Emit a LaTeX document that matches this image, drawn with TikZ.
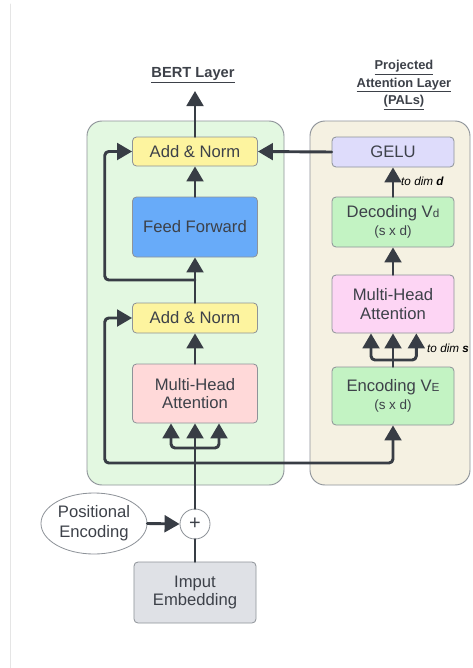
\documentclass[tikz,border=0pt]{standalone}
\usepackage{fontspec}
\setmainfont{Liberation Sans}
\usetikzlibrary{positioning, arrows.meta, calc, shapes.geometric}
\definecolor{figink}{HTML}{3D4149}
\definecolor{figwire}{HTML}{383D45}
\definecolor{boxline}{HTML}{8E9399}
\definecolor{bertfill}{HTML}{E3F8E1}
\definecolor{palfill}{HTML}{F5F1E2}
\definecolor{normfill}{HTML}{FDF49F}
\definecolor{fffill}{HTML}{68ABF9}
\definecolor{attfill}{HTML}{FFD9D9}
\definecolor{attpfill}{HTML}{FDD5F4}
\definecolor{codefill}{HTML}{C3F3C3}
\definecolor{gelufill}{HTML}{DEDCFB}
\definecolor{embfill}{HTML}{DFE1E6}

\newcommand{\smallsub}[1]{{\fontsize{10}{10}\selectfont #1}}

\begin{document}
\begin{tikzpicture}[
  x=0.03cm, y=-0.03cm,
  line cap=round, line join=round,
  >={Triangle[length=0.45cm, width=0.5cm]},
  panel/.style = {draw=boxline, line width=0.8pt, rounded corners=0.45cm},
  box/.style   = {draw=boxline, line width=0.7pt, rounded corners=0.12cm,
                  minimum width=3.75cm, inner sep=2pt, anchor=center,
                  align=center, text=figink,
                  font=\fontsize{14.2}{15.5}\selectfont},
  wire/.style  = {draw=figwire, line width=2.5pt, rounded corners=0.12cm},
  note/.style  = {font=\fontsize{10}{12}\selectfont\itshape, text=black,
                  inner sep=0pt, anchor=west},
  ttl/.style   = {font=\fontsize{12.5}{15}\selectfont\bfseries, text=figink,
                  align=center, inner sep=0pt}
]

% page and left rule
\fill[white] (0,0) rectangle (472,668);
\useasboundingbox (0,0) rectangle (472,668);
\draw[black!10, line width=0.8pt] (10.5,4) -- (10.5,668);

% panels
\draw[panel, fill=bertfill] (87,121) rectangle (284,485);
\draw[panel, fill=palfill] (310,121) rectangle (470,485);

% titles
\node[ttl] (berttitle) at (193,75) {\underline{BERT Layer}};
\node[ttl, font=\fontsize{11}{15}\selectfont\bfseries] (paltitle) at (404,85)
  {\underline{Projected}\\\underline{Attention Layer}\\\underline{(PALs)}};

% BERT layer
\node[box, fill=normfill, minimum height=0.87cm] (addtop) at (195,151.5) {Add \& Norm};
\node[box, fill=fffill, minimum height=1.8cm] (ff) at (195,227) {Feed Forward};
\node[box, fill=normfill, minimum height=0.9cm] (addlow) at (195,318) {Add \& Norm};
\node[box, fill=attfill, minimum height=1.77cm] (mha) at (195,393.5) {Multi-Head\\Attention};

% PAL branch
\node[box, fill=gelufill, minimum width=3.66cm, minimum height=0.9cm] (gelu) at (393,152) {GELU};
\node[box, fill=codefill, minimum width=3.66cm, minimum height=1.5cm] (dec) at (393,222)
  {Decoding V\smallsub{d}\\{\fontsize{11.5}{14}\selectfont (s x d)}};
\node[box, fill=attpfill, minimum width=3.66cm, minimum height=1.74cm] (mhap) at (393,304) {Multi-Head\\Attention};
\node[box, fill=codefill, minimum width=3.66cm, minimum height=1.74cm] (enc) at (393,396)
  {Encoding V\smallsub{E}\\{\fontsize{11.5}{14}\selectfont (s x d)}};

% input side
\node[box, fill=embfill, minimum width=3.66cm, minimum height=1.83cm] (emb) at (195,592.5) {Imput\\Embedding};
\node[draw=boxline, line width=0.7pt, fill=white, circle, minimum size=0.9cm, inner sep=0pt,
      text=figink, font=\fontsize{17}{17}\selectfont] (plus) at (195,524) {+};
\node[draw=boxline, line width=0.7pt, fill=white, ellipse, minimum width=3.18cm, minimum height=1.83cm,
      inner sep=0pt, align=center, text=figink, font=\fontsize{14.2}{17}\selectfont] (pos) at (94,523.5)
  {Positional\\Encoding};

\coordinate (split) at (195,448);
\coordinate (tap) at (195,463);
\coordinate (tapff) at ($(addlow.north)!0.5!(ff.south)$);
\coordinate (splitp) at (393,360);
\coordinate (out) at (195,91);

% input -> attention
\draw[wire] (emb.north) -- (plus.south);
\draw[wire, ->] (pos.east) -- (plus.west);
\draw[wire] (plus.north) -- (split);
\draw[wire, ->] (split) -- (mha.south);
\draw[wire, ->] (split) -| ([xshift=-0.72cm]mha.south);
\draw[wire, ->] (split) -| ([xshift=0.72cm]mha.south);

% residuals
\draw[wire, ->] (tap) -| ([xshift=-0.82cm]addlow.west) -- (addlow.west);
\draw[wire, ->] (tap) -| (enc.south);
\draw[wire, ->] (tapff) -| ([xshift=-0.82cm]addtop.west) -- (addtop.west);

% BERT stack
\draw[wire, ->] (mha.north) -- (addlow.south);
\draw[wire, ->] (addlow.north) -- (ff.south);
\draw[wire, ->] (ff.north) -- (addtop.south);
\draw[wire, ->] (addtop.north) -- (out);

% PAL stack
\draw[wire] (enc.north) -- (splitp);
\draw[wire, ->] (splitp) -- (mhap.south);
\draw[wire, ->] (splitp) -| ([xshift=-0.66cm]mhap.south);
\draw[wire, ->] (splitp) -| ([xshift=0.70cm]mhap.south);
\draw[wire, ->] (mhap.north) -- (dec.south);
\draw[wire, ->] (dec.north) -- (gelu.south);
\draw[wire, ->] (gelu.west) -- (addtop.east);

\node[note] (dimd) at (401,181) {to dim \textbf{d}};
\node[note] (dims) at (427,348) {to dim \textbf{s}};

\end{tikzpicture}
\end{document}
